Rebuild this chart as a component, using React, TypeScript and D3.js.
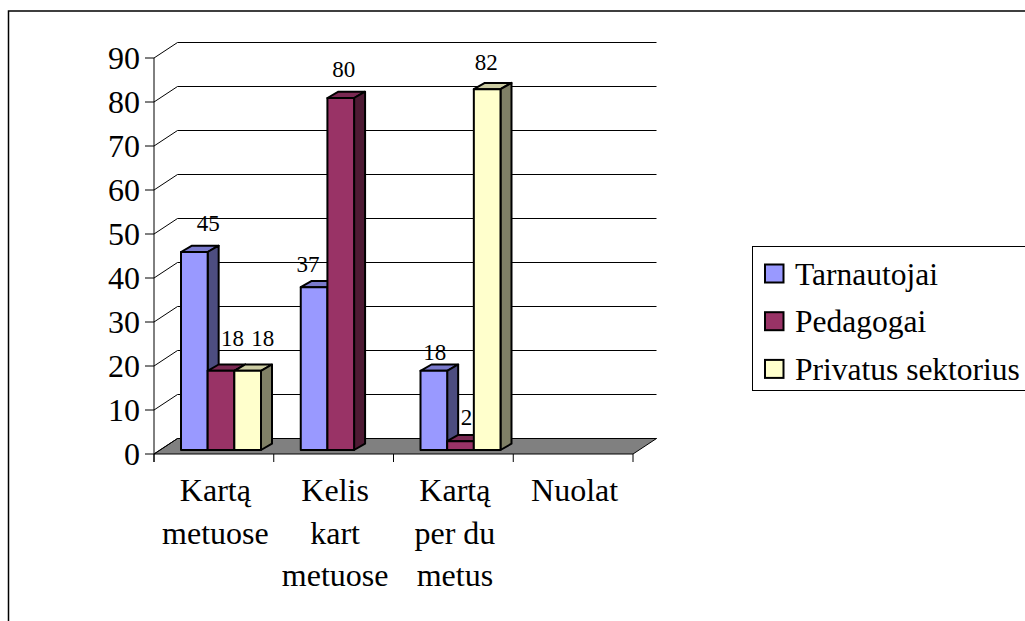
import { useEffect, useRef } from 'react';
import * as d3 from 'd3';

const categories = ['Kartą metuose', 'Kelis kart metuose', 'Kartą per du metus', 'Nuolat'];
const categoryLines = [['Kartą', 'metuose'], ['Kelis', 'kart', 'metuose'], ['Kartą', 'per du', 'metus'], ['Nuolat']];
const seriesNames = ['Tarnautojai', 'Pedagogai', 'Privatus sektorius'];
const tarnautojai = [45, 37, 18, null];
const pedagogai = [18, 80, 2, null];
const privatus = [18, null, 82, null];
const seriesValues = [tarnautojai, pedagogai, privatus];
const yTicks = [0, 10, 20, 30, 40, 50, 60, 70, 80, 90];

const fills = ['#9999ff', '#993366', '#ffffcc'];
const tops = ['#7a7acc', '#7a2952', '#cccca3'];
const sides = ['#4d4d80', '#4d1a33', '#808066'];

// label nudges, the original chart placed these a bit off centre
const labelDx = [[14, -6, 1], [11.5, 3, 6], [15, 0, -1]];
const labelDy = [[21, 15, 11], [25, 21, 16], [25, 0, 19]];

const depthX = 23.5;
const depthY = -15.5;
const barDepthX = 11;
const barDepthY = -6.3;

export default function App() {
  const svgRef = useRef<SVGSVGElement>(null);

  useEffect(() => {
    if (!svgRef.current) return;
    const svg = d3.select(svgRef.current);
    svg.selectAll('*').remove();

    const font = '"Liberation Serif", serif';
    const x = d3.scaleBand().domain(categories).range([154, 633]);
    const inner = d3.scaleBand().domain(seriesNames).range([27, 107]);
    const y = d3.scaleLinear().domain([0, 90]).range([454, 58]);

    // chart frame
    svg.append('rect')
      .attr('x', 8.5).attr('y', 11).attr('width', 1100).attr('height', 700)
      .attr('fill', '#fff').attr('stroke', '#000').attr('stroke-width', 1.5);

    // floor
    svg.append('polygon')
      .attr('points', [
        [154, y(0)], [633, y(0)], [633 + depthX, y(0) + depthY], [154 + depthX, y(0) + depthY],
      ].join(' '))
      .attr('fill', '#808080').attr('stroke', '#000');

    // gridlines along back and side wall
    yTicks.forEach(t => {
      const path = d3.path();
      path.moveTo(145, y(t));
      path.lineTo(154, y(t));
      path.lineTo(154 + depthX, y(t) + depthY);
      path.lineTo(633 + depthX, y(t) + depthY);
      svg.append('path').attr('d', path.toString()).attr('fill', 'none').attr('stroke', '#000').attr('stroke-width', 1);
      svg.append('text')
        .attr('x', 140).attr('y', y(t) + 11)
        .attr('text-anchor', 'end')
        .attr('font-family', font).attr('font-size', 32)
        .text(t);
    });
    svg.append('line')
      .attr('x1', 154).attr('x2', 154).attr('y1', y(90)).attr('y2', y(0) + 8)
      .attr('stroke', '#000');

    // category ticks
    [...categories.map(c => x(c) ?? 0), 633].forEach(px => {
      svg.append('line')
        .attr('x1', px).attr('x2', px).attr('y1', y(0)).attr('y2', y(0) + 8)
        .attr('stroke', '#000');
    });

    // bars
    const baseY = y(0) - 4;
    const h = (v: number) => y(0) - y(v);
    const barW = inner.bandwidth();
    categories.forEach((c, ci) => {
      seriesNames.forEach((s, si) => {
        const v = seriesValues[si][ci];
        if (v == null) return;
        const left = (x(c) ?? 0) + (inner(s) ?? 0);
        const top = baseY - h(v);
        const g = svg.append('g').attr('stroke', '#000').attr('stroke-width', 2).attr('stroke-linejoin', 'round');
        g.append('polygon')
          .attr('points', [
            [left, top], [left + barW, top], [left + barW + barDepthX, top + barDepthY], [left + barDepthX, top + barDepthY],
          ].join(' '))
          .attr('fill', tops[si]);
        g.append('polygon')
          .attr('points', [
            [left + barW, top], [left + barW + barDepthX, top + barDepthY],
            [left + barW + barDepthX, baseY + barDepthY], [left + barW, baseY],
          ].join(' '))
          .attr('fill', sides[si]);
        g.append('rect')
          .attr('x', left).attr('y', top).attr('width', barW).attr('height', baseY - top)
          .attr('fill', fills[si]);
      });
    });

    // value labels on top of the bars
    categories.forEach((c, ci) => {
      seriesNames.forEach((s, si) => {
        const v = seriesValues[si][ci];
        if (v == null) return;
        const left = (x(c) ?? 0) + (inner(s) ?? 0);
        svg.append('text')
          .attr('x', left + barW / 2 + labelDx[si][ci])
          .attr('y', baseY - h(v) - labelDy[si][ci])
          .attr('text-anchor', 'middle')
          .attr('font-family', font).attr('font-size', 23)
          .text(v);
      });
    });

    // category labels
    categories.forEach((c, ci) => {
      const cx = (x(c) ?? 0) + x.bandwidth() / 2 + 1.5;
      categoryLines[ci].forEach((line, li) => {
        svg.append('text')
          .attr('x', cx).attr('y', 501 + li * 42.5)
          .attr('text-anchor', 'middle')
          .attr('font-family', font).attr('font-size', 32)
          .text(line);
      });
    });

    // legend
    svg.append('rect')
      .attr('x', 752.5).attr('y', 246.5).attr('width', 400).attr('height', 144)
      .attr('fill', '#fff').attr('stroke', '#000');
    seriesNames.forEach((s, i) => {
      const cy = 273.5 + i * 47.7;
      svg.append('rect')
        .attr('x', 765).attr('y', cy - 9).attr('width', 18.5).attr('height', 18)
        .attr('fill', fills[i]).attr('stroke', '#000').attr('stroke-width', 2);
      svg.append('text')
        .attr('x', 795).attr('y', cy + 11)
        .attr('font-family', font).attr('font-size', 31.5)
        .text(s);
    });
  }, []);

  return (
    <svg
      ref={svgRef}
      width={1025}
      height={621}
      style={{ position: 'absolute', left: 0, top: 0, display: 'block' }}
    />
  );
}
